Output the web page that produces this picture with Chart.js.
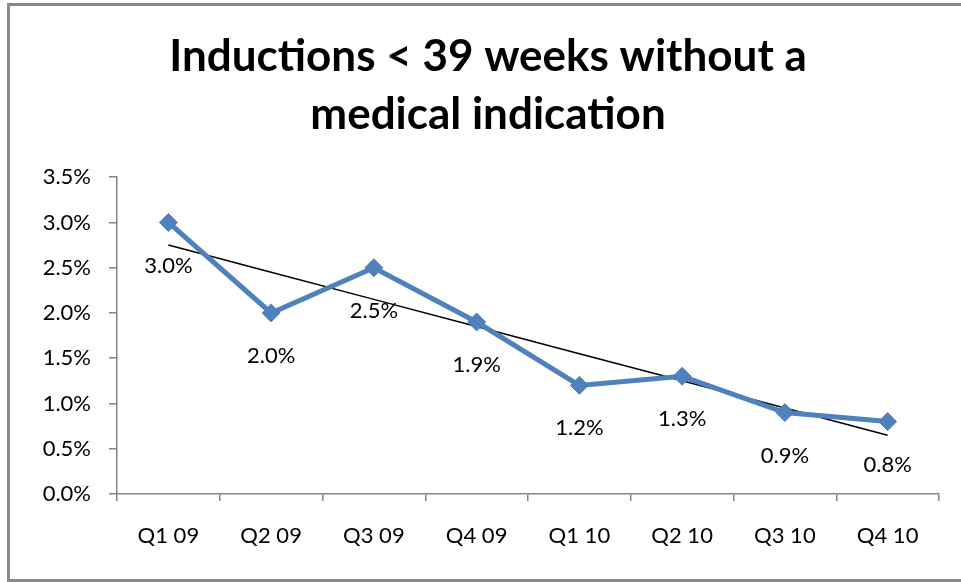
<!DOCTYPE html>
<html>
<head>
<meta charset="utf-8">
<script src="https://cdn.jsdelivr.net/npm/chart.js@4"></script>
<style>
  html, body { margin: 0; padding: 0; background: #fff; }
  #wrap { position: relative; width: 961px; height: 582px; overflow: hidden; }
  #frame {
    position: absolute; left: 7px; top: 3px; width: 980px; height: 573px;
    border-left: 3px solid #8a8a8a; border-top: 3px solid #8a8a8a; border-bottom: 3px solid #8a8a8a;
    pointer-events: none;
  }
  canvas { position: absolute; left: 0; top: 0; }
</style>
</head>
<body>
<div id="wrap">
  <canvas id="inductionsChart" width="961" height="582"></canvas>
  <div id="frame"></div>
</div>
<script>
const quarters = ["Q1 09", "Q2 09", "Q3 09", "Q4 09", "Q1 10", "Q2 10", "Q3 10", "Q4 10"];
const inductionRate = [3.0, 2.0, 2.5, 1.9, 1.2, 1.3, 0.9, 0.8];
// linear trend line
const trendRate = [2.75, 2.45, 2.15, 1.85, 1.55, 1.25, 0.95, 0.65];
const yTicks = [0, 0.5, 1.0, 1.5, 2.0, 2.5, 3.0, 3.5];

const axisColor = "#868686";
const fontFamily = "Lato, 'Open Sans', sans-serif";

// draw value labels under each point of the main series
const pointLabels = {
  id: "pointLabels",
  afterDatasetsDraw(chart) {
    const ctx = chart.ctx;
    const meta = chart.getDatasetMeta(0);
    ctx.save();
    ctx.font = "22px " + fontFamily;
    ctx.fillStyle = "#000";
    ctx.textAlign = "center";
    ctx.textBaseline = "middle";
    meta.data.forEach((pt, i) => {
      ctx.fillText(inductionRate[i].toFixed(1) + "%", pt.x, pt.y + 43);
    });
    ctx.restore();
  },
};

window.addEventListener("load", () => {
  const ctx = document.getElementById("inductionsChart");
  new Chart(ctx, {
    type: "line",
    data: {
      labels: quarters,
      datasets: [
        {
          label: "Inductions",
          data: inductionRate,
          borderColor: "#4f81bd",
          backgroundColor: "#4f81bd",
          borderWidth: 5,
          pointStyle: "rectRot",
          pointRadius: 9,
          pointHoverRadius: 9,
          pointBorderWidth: 1,
          tension: 0,
        },
        {
          label: "Trend",
          data: trendRate,
          borderColor: "#000",
          borderWidth: 1.5,
          pointRadius: 0,
          tension: 0,
        },
      ],
    },
    options: {
      responsive: false,
      animation: false,
      layout: {
        padding: { left: 37, right: 22, top: 0, bottom: 0 },
      },
      plugins: {
        legend: { display: false },
        tooltip: { enabled: false },
        title: {
          display: true,
          text: ["Inductions < 39 weeks without a", "medical indication"],
          color: "#000",
          font: { family: fontFamily, size: 44, weight: "bold", lineHeight: 1.32 },
          padding: { top: 28, bottom: 33 },
        },
      },
      scales: {
        x: {
          offset: true,
          grid: {
            offset: true,
            drawOnChartArea: false,
            drawTicks: true,
            tickLength: 7,
            color: axisColor,
            lineWidth: 1.5,
          },
          border: { display: true, color: axisColor, width: 1.5 },
          ticks: {
            color: "#000",
            padding: 22,
            font: { family: fontFamily, size: 22 },
          },
          afterFit(scale) {
            scale.height = 88;
          },
        },
        y: {
          min: 0,
          max: 3.5,
          afterBuildTicks(scale) {
            scale.ticks = yTicks.map((v) => ({ value: v }));
          },
          grid: {
            drawOnChartArea: false,
            drawTicks: true,
            tickLength: 8,
            color: axisColor,
            lineWidth: 1.5,
          },
          border: { display: true, color: axisColor, width: 1.5 },
          ticks: {
            color: "#000",
            padding: 18,
            font: { family: fontFamily, size: 22 },
            callback: (v) => Number(v).toFixed(1) + "%",
          },
          afterFit(scale) {
            scale.width = 80;
          },
        },
      },
    },
    plugins: [pointLabels],
  });
});
</script>
</body>
</html>
